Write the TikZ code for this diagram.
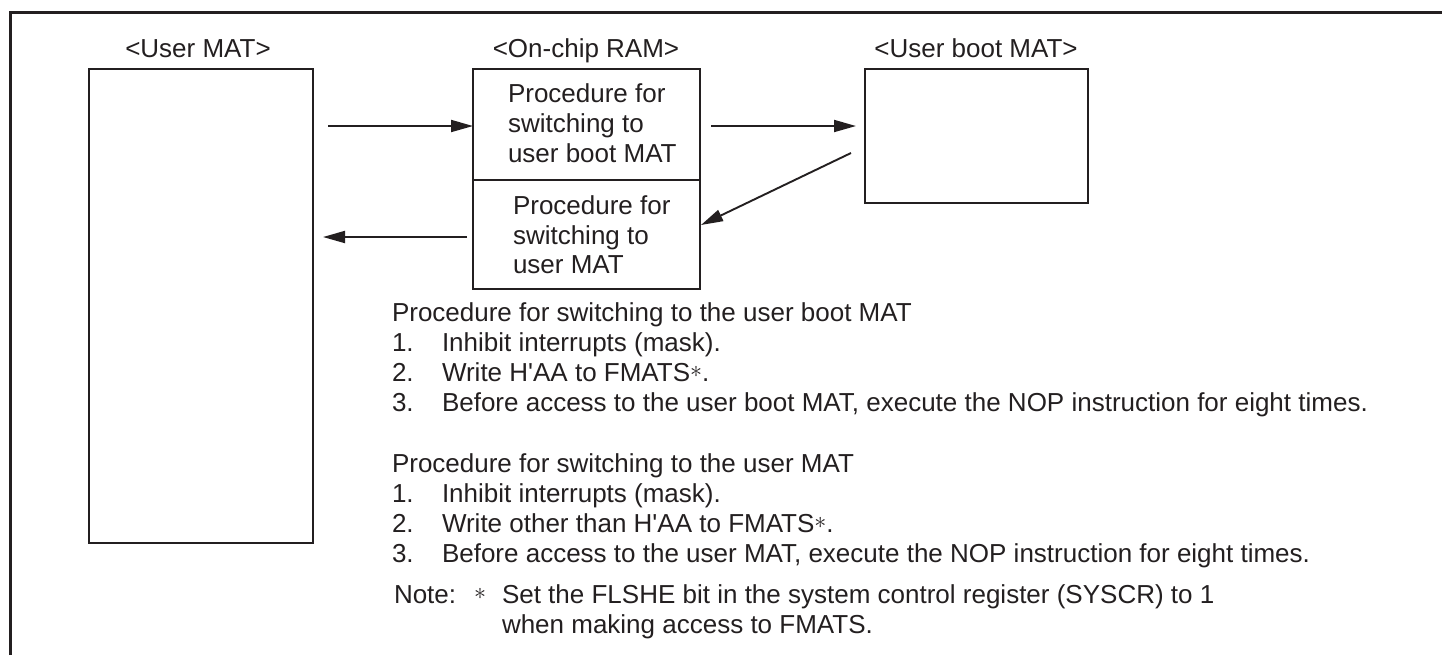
\documentclass[tikz,border=0pt]{standalone}
\usepackage{fontspec}
\newfontfamily\arialf{Liberation Sans}
\usetikzlibrary{arrows.meta}
\definecolor{ink}{RGB}{35,31,32}
\newcommand{\astmark}{\raisebox{1.8pt}{$\ast$}}
\begin{document}
\begin{tikzpicture}[x=0.5pt,y=-0.5pt,
  every node/.style={font=\arialf\fontsize{13pt}{15pt}\selectfont, text=ink, inner sep=0pt, outer sep=0pt},
  txt/.style={anchor=base west},
  lbl/.style={anchor=base},
  box/.style={draw=ink, line width=1.45pt, line join=miter},
  conn/.style={draw=ink, line width=0.95pt, -{Triangle[length=11pt,width=6pt]}}]
\useasboundingbox (0,0) rectangle (1442,655);
% frame
\draw[ink, line width=1.7pt, line join=miter] (10.5,655) -- (10.5,12.5) -- (1442,12.5);
% boxes
\node[box, minimum width=112pt, minimum height=237pt] (umat) at (201,306) {};
\node[box, minimum width=113.5pt, minimum height=55.5pt] (ramup) at (586.5,124.5) {};
\node[box, minimum width=113.5pt, minimum height=54.5pt] (ramlo) at (586.5,234.5) {};
\node[box, minimum width=111.5pt, minimum height=67pt] (boot) at (976.5,136) {};
% labels
\node[lbl] (lumat) at (198,57) {<User MAT>};
\node[lbl] (lram) at (586,57) {<On-chip RAM>};
\node[lbl] (lboot) at (976,57) {<User boot MAT>};
% RAM texts
\node[txt] (ru1) at (508,102) {Procedure for};
\node[txt] (ru2) at (508,132) {switching to};
\node[txt] (ru3) at (508,162) {user boot MAT};
\node[txt] (rl1) at (513,214) {Procedure for};
\node[txt] (rl2) at (513,244) {switching to};
\node[txt] (rl3) at (513,273) {user MAT};
% arrows
\coordinate (a1s) at (328,126);
\draw[conn] (a1s) -- (a1s -| ramup.west);
\coordinate (a2s) at (711,126);
\coordinate (a2e) at (856,126);
\draw[conn] (a2s) -- (a2e);
\coordinate (a3s) at (851,153);
\coordinate (a3e) at (701,225);
\draw[conn] (a3s) -- (a3e);
\coordinate (a4s) at (467,237);
\coordinate (a4e) at (323,237);
\draw[conn] (a4s) -- (a4e);
% procedure text
\node[txt] (h1) at (392,321) {Procedure for switching to the user boot MAT};
\node[txt] (n11) at (392,351) {1.};
\node[txt] (t11) at (442,351) {Inhibit interrupts (mask).};
\node[txt] (n12) at (392,381) {2.};
\node[txt] (t12) at (442,381) {Write H'AA to FMATS\astmark.};
\node[txt] (n13) at (392,411) {3.};
\node[txt] (t13) at (442,411) {Before access to the user boot MAT, execute the NOP instruction for eight times.};
\node[txt] (h2) at (392,472) {Procedure for switching to the user MAT};
\node[txt] (n21) at (392,502) {1.};
\node[txt] (t21) at (442,502) {Inhibit interrupts (mask).};
\node[txt] (n22) at (392,532) {2.};
\node[txt] (t22) at (442,532) {Write other than H'AA to FMATS\astmark.};
\node[txt] (n23) at (392,562) {3.};
\node[txt] (t23) at (442,562) {Before access to the user MAT, execute the NOP instruction for eight times.};
\node[txt] (note) at (394,603) {Note:};
\node[txt] (nast) at (474,603) {\astmark};
\node[txt] (nt1) at (502,603) {Set the FLSHE bit in the system control register (SYSCR) to 1};
\node[txt] (nt2) at (502,633) {when making access to FMATS.};
\end{tikzpicture}
\end{document}
